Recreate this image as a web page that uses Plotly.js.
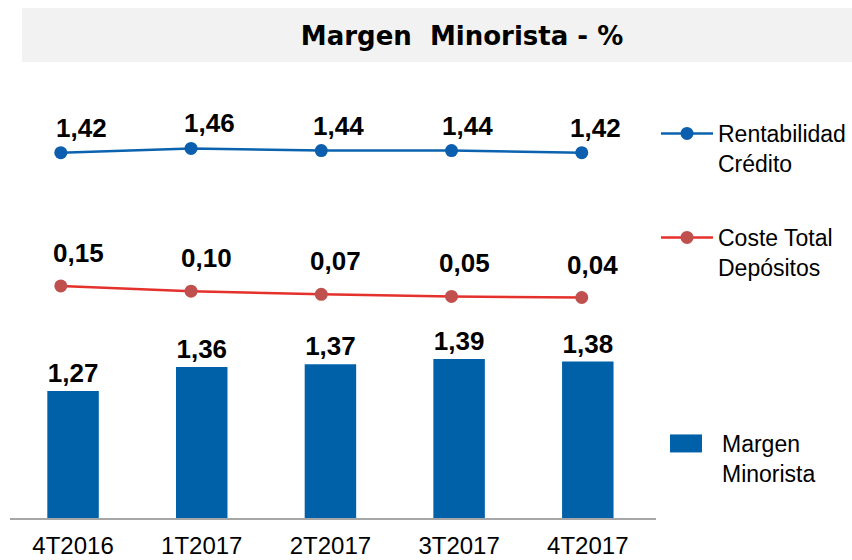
<!DOCTYPE html>
<html>
<head>
<meta charset="utf-8">
<script src="https://cdn.plot.ly/plotly-3.0.1.min.js"></script>
<style>html,body{margin:0;padding:0;background:#fff;}#chart{width:852px;height:560px;}</style>
</head>
<body>
<div id="chart"></div>
<script>
const categories = ['4T2016', '1T2017', '2T2017', '3T2017', '4T2017'];
const rentabilidadCredito = [1.42, 1.46, 1.44, 1.44, 1.42];
const costeTotalDepositos = [0.15, 0.10, 0.07, 0.05, 0.04];
const margenMinorista = [1.27, 1.36, 1.37, 1.39, 1.38];
const idx = categories.map((c, i) => i);

const fmt = v => v.toFixed(2).replace('.', ',');
const FONT = 'Liberation Sans, Arial, sans-serif';

const traces = [
  {
    type: 'bar', name: 'Margen<br>Minorista', x: idx, y: margenMinorista,
    xaxis: 'x', yaxis: 'y', width: 0.4,
    marker: {color: '#0060a8'},
    text: margenMinorista.map(fmt), textposition: 'outside', cliponaxis: false,
    textfont: {family: FONT, size: 26, color: '#000', weight: 'bold'},
    legend: 'legend3'
  },
  {
    type: 'scatter', mode: 'lines+markers', name: 'Rentabilidad<br>Crédito',
    x: idx, y: rentabilidadCredito, xaxis: 'x2', yaxis: 'y2',
    line: {color: '#0b63b0', width: 2.5},
    marker: {color: '#0b5fae', size: 13},
    legend: 'legend'
  },
  {
    type: 'scatter', mode: 'lines+markers', name: 'Coste Total<br>Depósitos',
    x: idx, y: costeTotalDepositos, xaxis: 'x2', yaxis: 'y2',
    line: {color: '#e4312b', width: 2.5},
    marker: {color: '#c0504d', size: 13},
    legend: 'legend2'
  }
];

const annotations = [];
rentabilidadCredito.forEach((v, i) => annotations.push({
  xref: 'x', yref: 'y2', x: i, y: v, text: fmt(v), showarrow: false,
  xshift: 8, yshift: 25, font: {family: FONT, size: 26, color: '#000', weight: 'bold'}
}));
costeTotalDepositos.forEach((v, i) => annotations.push({
  xref: 'x', yref: 'y2', x: i, y: v, text: fmt(v), showarrow: false,
  xshift: 5, yshift: 33, font: {family: FONT, size: 26, color: '#000', weight: 'bold'}
}));

const legendBase = {
  xref: 'container', yref: 'container', xanchor: 'left', yanchor: 'top',
  font: {family: FONT, size: 23, color: '#000'}, bgcolor: 'rgba(0,0,0,0)',
  valign: 'top', itemclick: false
};

const layout = {
  width: 852, height: 560,
  margin: {l: 10, r: 196, t: 70, b: 42},
  paper_bgcolor: '#fff', plot_bgcolor: '#fff',
  separators: ',.',
  title: {
    text: '<b>Margen\u00A0\u00A0Minorista - %</b>',
    x: 462 / 852, xref: 'container', xanchor: 'center',
    y: 1 - 36 / 560, yref: 'container', yanchor: 'middle',
    font: {family: 'DejaVu Sans, sans-serif', size: 26, color: '#000'}
  },
  shapes: [{
    type: 'rect', xref: 'paper', yref: 'paper', layer: 'below',
    x0: (22 - 10) / 646, x1: (852 - 10) / 646, y0: (518 - 62) / 448, y1: (518 - 8) / 448,
    fillcolor: '#f2f2f2', line: {width: 0}
  }],
  xaxis: {
    range: [-0.49, 4.53], tickvals: idx, ticktext: categories, ticks: '',
    showgrid: false, zeroline: false, showline: true, linecolor: '#a6a6a6', linewidth: 1.5,
    tickfont: {family: FONT, size: 24, color: '#000'}, ticklabelstandoff: 6, fixedrange: true
  },
  xaxis2: {overlaying: 'x', range: [-0.39, 4.57], visible: false},
  yaxis: {range: [0.794, 2.472], visible: false, showgrid: false, zeroline: false},
  yaxis2: {overlaying: 'y', range: [-2.06, 2.207], visible: false, showgrid: false, zeroline: false},
  showlegend: true,
  legend: Object.assign({}, legendBase, {x: 678 / 852, y: 1 - 112 / 560}),
  legend2: Object.assign({}, legendBase, {x: 678 / 852, y: 1 - 216 / 560}),
  legend3: Object.assign({}, legendBase, {x: 682 / 852, y: 1 - 422 / 560}),
  annotations: annotations,
  bargap: 0.6
};

function tweakLegend() {
  try {
    document.querySelectorAll('.scrollbox').forEach(s => s.removeAttribute('clip-path'));
    document.querySelectorAll('.legendlines path').forEach(p => p.setAttribute('d', 'M-17,0h52'));
    document.querySelectorAll('.legendpoints path.scatterpts').forEach(p => p.setAttribute('transform', 'translate(9,0)'));
    document.querySelectorAll('.legendpoints path').forEach(p => {
      const d = p.getAttribute('d') || '';
      if (!p.classList.contains('scatterpts') && d.indexOf('H-6V-6') !== -1) {
        p.setAttribute('d', 'M0,9H-32V-9H0Z');
      }
    });
  } catch (e) {}
}

Plotly.newPlot('chart', traces, layout, {displayModeBar: false, staticPlot: true}).then(tweakLegend);
</script>
</body>
</html>
